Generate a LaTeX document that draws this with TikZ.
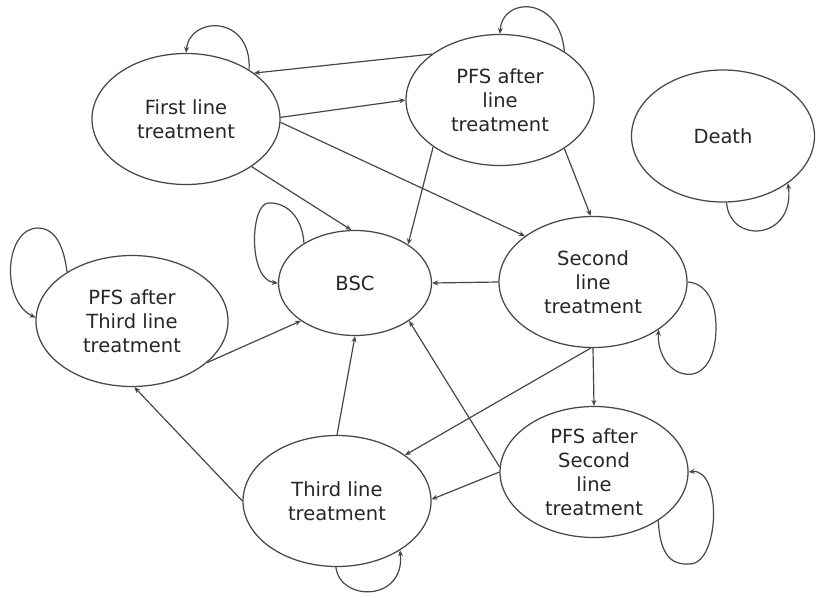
\documentclass[tikz,border=0pt]{standalone}
\usepackage{fontspec}
\setmainfont{DejaVu Sans}
\usetikzlibrary{shapes.geometric,arrows.meta}
\begin{document}
\begin{tikzpicture}[x=1pt,y=-1pt,
  state/.style={ellipse,draw=black!72,line width=1.25pt,text=black!85,align=center,inner sep=0pt,
    minimum width=188pt,minimum height=131pt,font=\fontsize{19.5}{24}\selectfont},
  edge/.style={draw=black!72,line width=1.2pt,-{Stealth[length=6pt,width=5pt]}}]
\useasboundingbox (0,0) rectangle (816,597);
\node[state] (F1) at (186,119) {First line\\treatment};
\node[state] (P1) at (500,100) {PFS after\\line\\treatment};
\node[state,minimum width=183pt,minimum height=132pt] (D) at (723,136) {Death};
\node[state,minimum width=153pt,minimum height=105pt] (B) at (355,283) {BSC};
\node[state] (S2) at (593,282) {Second\\line\\treatment};
\node[state,minimum width=192pt] (P3) at (132,321) {PFS after\\Third line\\treatment};
\node[state] (T3) at (337,501) {Third line\\treatment};
\node[state] (P2) at (594,472) {PFS after\\Second\\line\\treatment};
% connectors
\draw[edge] (P1.146) -- (F1.34);
\draw[edge] (F1.1) -- (P1.180);
\draw[edge] (F1.-2) -- (S2.146);
\draw[edge] (F1.-36) -- (B.94);
\draw[edge] (P1.215) -- (B.36);
\draw[edge] (P1.-37) -- (S2.92);
\draw[edge] (S2.180) -- (B.0);
\draw[edge] (S2.-90) -- (P2.90);
\draw[edge] (S2.-92) -- (T3.34);
\draw[edge] (P2.180) -- (T3.1);
\draw[edge] (P2.177) -- (B.-35);
\draw[edge] (T3.90) -- (B.-90);
\draw[edge] (T3.180) -- (P3.-88);
\draw[edge] (P3.-29) -- (B.215);
% self loops
\draw[edge] (F1.38) .. controls (252,15) and (190,15) .. (F1.90);
\draw[edge] (P1.37) .. controls (560,-4) and (502,-4) .. (P1.90);
\draw[edge] (D.-87) .. controls (730,245) and (795,240) .. (D.-36);
\draw[edge] (B.142) .. controls (302,215) and (285,202) .. (268,203) .. controls (250,205) and (248,280) .. (B.180);
\draw[edge] (P3.143) .. controls (63,240) and (52,228) .. (38,228) .. controls (5,228) and (0,300) .. (P3.178);
\draw[edge] (S2.0) .. controls (705,283) and (716,300) .. (716,327) .. controls (716,398) and (656,380) .. (S2.-36);
\draw[edge] (P2.-37) .. controls (660,560) and (675,565) .. (690,564) .. controls (720,563) and (722,468) .. (P2.0);
\draw[edge] (T3.-91) .. controls (340,602) and (405,602) .. (T3.-38);
\end{tikzpicture}
\end{document}
